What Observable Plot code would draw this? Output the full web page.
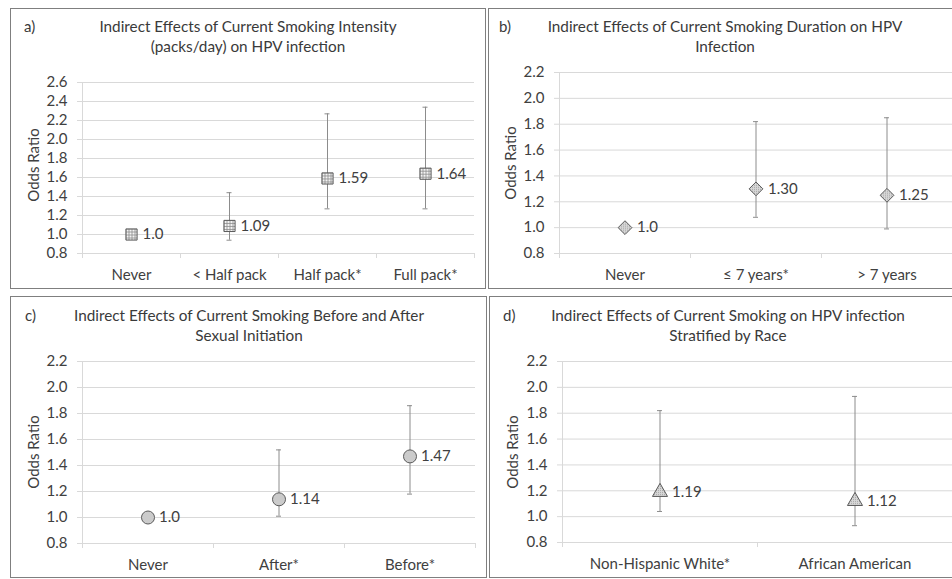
<!DOCTYPE html>
<html>
<head>
<meta charset="utf-8">
<script src="https://cdn.jsdelivr.net/npm/d3@7"></script>
<script src="https://cdn.jsdelivr.net/npm/@observablehq/plot@0.6"></script>
<style>
  body { margin: 0; background: #fff; }
  #root { position: relative; width: 952px; height: 579px; overflow: hidden; font-family: Lato, "Open Sans", sans-serif; color: #404040; }
  .panel { position: absolute; border: 1px solid #7f7f7f; box-sizing: border-box; }
  .ttl { position: absolute; font-size: 15.3px; line-height: 20px; text-align: center; white-space: nowrap; transform: translateX(-50%); color: #3a3a3a; }
  .tag { position: absolute; font-size: 15px; line-height: 20px; color: #3a3a3a; }
  .ylab { position: absolute; font-size: 15px; white-space: nowrap; transform: translate(-50%, -50%) rotate(-90deg); color: #404040; }
  .plot { position: absolute; }
</style>
</head>
<body>
<svg width="0" height="0" style="position:absolute">
  <defs>
    <pattern id="gridpat" patternUnits="userSpaceOnUse" width="3" height="3">
      <rect width="3" height="3" fill="#f4f4f4"></rect>
      <path d="M0 0.5H3M0.5 0V3" stroke="#8a8a8a" stroke-width="0.8"></path>
    </pattern>
    <pattern id="dotpat" patternUnits="userSpaceOnUse" width="2" height="2">
      <rect width="2" height="2" fill="#d6d6d6"></rect>
      <rect width="1" height="1" fill="#a8a8a8"></rect>
    </pattern>
  </defs>
</svg>
<div id="root"></div>
<script>
// ---- data ----
const catsA = ["Never", "< Half pack", "Half pack*", "Full pack*"];
const orA = [1.0, 1.09, 1.59, 1.64];
const loA = [null, 0.94, 1.27, 1.27];
const hiA = [null, 1.44, 2.27, 2.34];
const labA = ["1.0", "1.09", "1.59", "1.64"];

const catsB = ["Never", "≤ 7 years*", "> 7 years"];
const orB = [1.0, 1.30, 1.25];
const loB = [null, 1.08, 0.99];
const hiB = [null, 1.82, 1.85];
const labB = ["1.0", "1.30", "1.25"];

const catsC = ["Never", "After*", "Before*"];
const orC = [1.0, 1.14, 1.47];
const loC = [null, 1.01, 1.18];
const hiC = [null, 1.52, 1.86];
const labC = ["1.0", "1.14", "1.47"];

const catsD = ["Non-Hispanic White*", "African American"];
const orD = [1.19, 1.12];
const loD = [1.04, 0.93];
const hiD = [1.82, 1.93];
const labD = ["1.19", "1.12"];

const yTicksA = [0.8, 1.0, 1.2, 1.4, 1.6, 1.8, 2.0, 2.2, 2.4, 2.6];
const yTicksBCD = [0.8, 1.0, 1.2, 1.4, 1.6, 1.8, 2.0, 2.2];

const titles = {
  a: ["Indirect Effects of Current Smoking Intensity", "(packs/day) on HPV infection"],
  b: ["Indirect Effects of Current Smoking Duration on HPV", "Infection"],
  c: ["Indirect Effects of Current Smoking Before and After", "Sexual Initiation"],
  d: ["Indirect Effects of Current Smoking on HPV infection", "Stratified by Race"]
};
const yLabel = "Odds Ratio";

// ---- layout ----
const root = document.getElementById("root");
function addDiv(cls, style, html) {
  const d = document.createElement("div");
  d.className = cls;
  Object.assign(d.style, style);
  if (html != null) d.innerHTML = html;
  root.appendChild(d);
  return d;
}

const FONT = "Lato, 'Open Sans', sans-serif";
const GRID = "#d9d9d9";
const TXT = "#404040";

function makePanel(cfg) {
  const n = cfg.cats.length;
  const rows = cfg.cats.map((c, i) => ({ c, pos: i + 0.5, or: cfg.or[i], lo: cfg.lo[i], hi: cfg.hi[i], lab: cfg.lab[i] }));
  const ci = rows.filter(d => d.lo != null);
  const yMax = cfg.yTicks[cfg.yTicks.length - 1];
  const chart = Plot.plot({
    width: cfg.w, height: cfg.h,
    marginLeft: cfg.mL, marginRight: cfg.mR, marginTop: cfg.mT, marginBottom: cfg.mB,
    style: { fontFamily: FONT, color: TXT, background: "transparent", overflow: "visible" },
    x: { domain: [0, n] },
    y: { domain: [0.8, yMax] },
    marks: [
      Plot.gridY(cfg.yTicks, { stroke: GRID, strokeOpacity: 1 }),
      Plot.ruleX([0], { y1: 0.8, y2: yMax, stroke: GRID }),
      Plot.axisY(cfg.yTicks, { tickSize: 5, tickPadding: 10, stroke: GRID, fill: TXT, fontSize: 15, tickFormat: d3.format(".1f"), label: null }),
      Plot.axisX(d3.range(n + 1), { tickSize: 5, stroke: GRID, tickFormat: () => "", label: null }),
      Plot.axisX(rows.map(d => d.pos), { tickSize: 0, tickPadding: 16, fill: TXT, fontSize: 15, tickFormat: p => cfg.cats[Math.floor(p)], label: null }),
      Plot.ruleX(ci, { x: "pos", y1: "lo", y2: "hi", stroke: "#8c8c8c", strokeWidth: 1 }),
      Plot.ruleY(ci, { y: "lo", x1: "pos", x2: "pos", insetLeft: -2.5, insetRight: -2.5, stroke: "#8c8c8c" }),
      Plot.ruleY(ci, { y: "hi", x1: "pos", x2: "pos", insetLeft: -2.5, insetRight: -2.5, stroke: "#8c8c8c" }),
      Plot.dot(rows, { x: "pos", y: "or", symbol: cfg.symbol, r: cfg.r, fill: cfg.fill, stroke: "#5a5a5a", strokeWidth: 1 }),
      Plot.text(rows, { x: "pos", y: "or", text: "lab", dx: cfg.dx, textAnchor: "start", fontSize: 15, fill: TXT })
    ]
  });
  chart.classList.add("plot");
  chart.style.left = cfg.left + "px";
  chart.style.top = cfg.top + "px";
  root.appendChild(chart);
}

// panel borders
addDiv("panel", { left: "10px", top: "8px", width: "476px", height: "281px" });
addDiv("panel", { left: "488px", top: "8px", width: "480px", height: "281px" });
addDiv("panel", { left: "10px", top: "296px", width: "477px", height: "282px" });
addDiv("panel", { left: "489px", top: "296px", width: "480px", height: "282px" });

// titles and tags
const titlePos = { a: [248, 16], b: [725, 16], c: [249, 305], d: [728, 305] };
const tagPos = { a: [24, 16], b: [499, 16], c: [25, 305], d: [503, 305] };
for (const k of ["a", "b", "c", "d"]) {
  addDiv("ttl", { left: titlePos[k][0] + "px", top: titlePos[k][1] + "px" }, titles[k].join("<br>"));
  addDiv("tag", { left: tagPos[k][0] + "px", top: tagPos[k][1] + "px" }, k + ")");
}
const ylabPos = [[33, 165], [510, 163], [33, 452], [512, 452]];
for (const [x, y] of ylabPos) addDiv("ylab", { left: x + "px", top: y + "px" }, yLabel);

makePanel({ cats: catsA, or: orA, lo: loA, hi: hiA, lab: labA, yTicks: yTicksA, symbol: "square", r: 6.3, fill: "url(#gridpat)", dx: 11,
  left: 10, top: 60, w: 475, h: 228, mL: 72, mR: 11, mT: 22, mB: 35 });
makePanel({ cats: catsB, or: orB, lo: loB, hi: hiB, lab: labB, yTicks: yTicksBCD, symbol: "diamond2", r: 6.2, fill: "url(#dotpat)", dx: 12,
  left: 488, top: 60, w: 464, h: 228, mL: 71, mR: 0, mT: 12, mB: 35 });
makePanel({ cats: catsC, or: orC, lo: loC, hi: hiC, lab: labC, yTicks: yTicksBCD, symbol: "circle", r: 6.5, fill: "url(#dotpat)", dx: 11,
  left: 10, top: 340, w: 476, h: 237, mL: 72, mR: 11, mT: 21, mB: 34 });
makePanel({ cats: catsD, or: orD, lo: loD, hi: hiD, lab: labD, yTicks: yTicksBCD, symbol: "triangle", r: 5.6, fill: "url(#dotpat)", dx: 12,
  left: 490, top: 340, w: 462, h: 237, mL: 72, mR: 0, mT: 21, mB: 35 });
</script>
</body>
</html>
